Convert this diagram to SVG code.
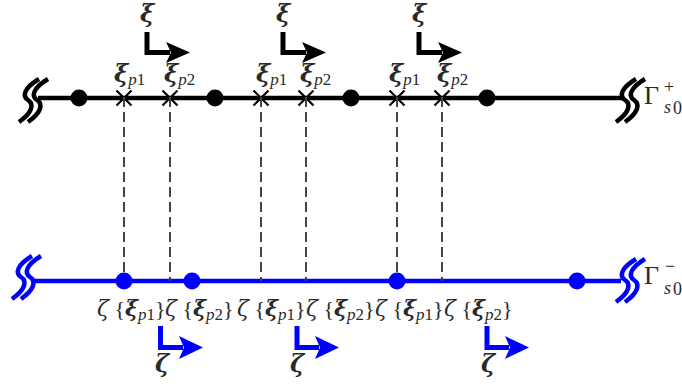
<svg xmlns="http://www.w3.org/2000/svg" width="682" height="388" viewBox="0 0 682 388">
  <style>
    text { font-family: "Liberation Serif", "DejaVu Serif", serif; fill: #2a2a2a; }
    .lbl { font-size: 22px; }
    .top { font-size: 24px; }
    .gr { font-family: "DejaVu Serif", serif; }
    .bx { font-weight: bold; font-style: italic; }
    .it { font-style: italic; }
    .sub { font-size: 17px; }
    .big { font-size: 24px; }
    .gam { font-size: 26px; }
    .gsub { font-size: 18px; }
    .line-k { stroke: #000; stroke-width: 4.5; fill: none; }
    .line-b { stroke: #0000ff; stroke-width: 4.5; fill: none; }
    .brk-k { stroke: #000; stroke-width: 4.5; fill: none; }
    .brk-b { stroke: #0000ff; stroke-width: 4.5; fill: none; }
    .dash { stroke: #444; stroke-width: 2; stroke-dasharray: 10 5; fill: none; }
    .cross { stroke: #000; stroke-width: 2.2; fill: none; }
    .arr-k { stroke: #000; stroke-width: 5; fill: none; }
    .arr-b { stroke: #0000ff; stroke-width: 5; fill: none; }
  </style>
  <defs>
    <!-- one wavy stroke of a break mark, centred on the line -->
    <path id="wave" d="M 10,-21 C -5,-12 -7,-4 -1,0 C 5,4 4,12 -10,22"/>
    <!-- an x mark for a quadrature point -->
    <path id="xmark" d="M -7.5,-7.5 L 7.5,7.5 M 7.5,-7.5 L -7.5,7.5"/>
    <marker id="headK" markerUnits="userSpaceOnUse" markerWidth="26" markerHeight="24" refX="4" refY="12" orient="auto">
      <path d="M 0,1.5 L 24,12 L 0,22.5 L 5,12 Z" fill="#000"/>
    </marker>
    <marker id="headB" markerUnits="userSpaceOnUse" markerWidth="26" markerHeight="26" refX="4" refY="12" orient="auto">
      <path d="M 0,0.5 L 24,12 L 0,23.5 L 5,12 Z" fill="#0000ff"/>
    </marker>
  </defs>

  <!-- upper boundary -->
  <g id="gamma-plus">
    <line class="line-k" x1="38" y1="98" x2="623" y2="98"/>
    <use href="#wave" class="brk-k" transform="translate(29,100)"/>
    <use href="#wave" class="brk-k" transform="translate(38,100)"/>
    <use href="#wave" class="brk-k" transform="translate(626,100)"/>
    <use href="#wave" class="brk-k" transform="translate(635,100)"/>
    <text class="gam" x="644" y="104">Γ</text>
    <text class="gsub" x="664" y="93">+</text>
    <text class="gsub it" x="664" y="113">s</text>
    <text class="gsub" x="673" y="114">0</text>
  </g>

  <!-- lower boundary -->
  <g id="gamma-minus">
    <line class="line-b" x1="33" y1="281" x2="621" y2="281"/>
    <use href="#wave" class="brk-b" transform="translate(22,277)"/>
    <use href="#wave" class="brk-b" transform="translate(31,277)"/>
    <use href="#wave" class="brk-b" transform="translate(626,280)"/>
    <use href="#wave" class="brk-b" transform="translate(635,280)"/>
    <text class="gam" x="644" y="284">Γ</text>
    <text class="gsub" x="665" y="272">−</text>
    <text class="gsub it" x="664" y="294">s</text>
    <text class="gsub" x="673" y="295">0</text>
  </g>

  <!-- nodes on the upper boundary -->
  <g id="upper-nodes">
    <circle cx="79" cy="98" r="8.5" fill="#000"/>
    <circle cx="215" cy="98" r="8.5" fill="#000"/>
    <circle cx="351" cy="98" r="8.5" fill="#000"/>
    <circle cx="487" cy="98" r="8.5" fill="#000"/>
  </g>

  <!-- quadrature points on the upper boundary -->
  <g id="quad-points">
    <use href="#xmark" class="cross" x="124" y="98"/>
    <use href="#xmark" class="cross" x="170" y="98"/>
    <use href="#xmark" class="cross" x="261" y="98"/>
    <use href="#xmark" class="cross" x="306" y="98"/>
    <use href="#xmark" class="cross" x="397" y="98"/>
    <use href="#xmark" class="cross" x="442" y="98"/>
    <text class="top" x="114" y="82"><tspan class="gr bx">ξ</tspan><tspan class="sub it" dy="3">p</tspan><tspan class="sub">1</tspan></text>
    <text class="top" x="164" y="82"><tspan class="gr bx">ξ</tspan><tspan class="sub it" dy="3">p</tspan><tspan class="sub">2</tspan></text>
    <text class="top" x="256" y="82"><tspan class="gr bx">ξ</tspan><tspan class="sub it" dy="3">p</tspan><tspan class="sub">1</tspan></text>
    <text class="top" x="300" y="82"><tspan class="gr bx">ξ</tspan><tspan class="sub it" dy="3">p</tspan><tspan class="sub">2</tspan></text>
    <text class="top" x="389" y="82"><tspan class="gr bx">ξ</tspan><tspan class="sub it" dy="3">p</tspan><tspan class="sub">1</tspan></text>
    <text class="top" x="437" y="82"><tspan class="gr bx">ξ</tspan><tspan class="sub it" dy="3">p</tspan><tspan class="sub">2</tspan></text>
  </g>

  <!-- projections between the two boundaries -->
  <g id="connectors">
    <line class="dash" x1="124" y1="97" x2="124" y2="281"/>
    <line class="dash" x1="170" y1="97" x2="170" y2="281"/>
    <line class="dash" x1="261" y1="97" x2="261" y2="281"/>
    <line class="dash" x1="306" y1="97" x2="306" y2="281"/>
    <line class="dash" x1="397" y1="97" x2="397" y2="281"/>
    <line class="dash" x1="442" y1="97" x2="442" y2="281"/>
  </g>

  <!-- nodes on the lower boundary -->
  <g id="lower-nodes">
    <circle cx="124" cy="281" r="8.5" fill="#0000ff"/>
    <circle cx="192" cy="281" r="8.5" fill="#0000ff"/>
    <circle cx="397" cy="281" r="8.5" fill="#0000ff"/>
    <circle cx="577" cy="281" r="8.5" fill="#0000ff"/>
  </g>

  <!-- projected point labels -->
  <g id="projected-labels" class="lbl">
    <text x="97" y="316"><tspan class="gr it">ζ</tspan> {<tspan class="gr bx">ξ</tspan><tspan class="sub it" dy="4">p</tspan><tspan class="sub">1</tspan><tspan dy="-4">}</tspan></text>
    <text x="165" y="316"><tspan class="gr it">ζ</tspan> {<tspan class="gr bx">ξ</tspan><tspan class="sub it" dy="4">p</tspan><tspan class="sub">2</tspan><tspan dy="-4">}</tspan></text>
    <text x="237" y="316"><tspan class="gr it">ζ</tspan> {<tspan class="gr bx">ξ</tspan><tspan class="sub it" dy="4">p</tspan><tspan class="sub">1</tspan><tspan dy="-4">}</tspan></text>
    <text x="306" y="316"><tspan class="gr it">ζ</tspan> {<tspan class="gr bx">ξ</tspan><tspan class="sub it" dy="4">p</tspan><tspan class="sub">2</tspan><tspan dy="-4">}</tspan></text>
    <text x="375" y="316"><tspan class="gr it">ζ</tspan> {<tspan class="gr bx">ξ</tspan><tspan class="sub it" dy="4">p</tspan><tspan class="sub">1</tspan><tspan dy="-4">}</tspan></text>
    <text x="444" y="316"><tspan class="gr it">ζ</tspan> {<tspan class="gr bx">ξ</tspan><tspan class="sub it" dy="4">p</tspan><tspan class="sub">2</tspan><tspan dy="-4">}</tspan></text>
  </g>

  <!-- local coordinate arrows, upper element -->
  <g id="xi-axes">
    <path class="arr-k" d="M147,32 V52.5 H170" marker-end="url(#headK)"/>
    <path class="arr-k" d="M283,32 V52.5 H306" marker-end="url(#headK)"/>
    <path class="arr-k" d="M419,32 V52.5 H442" marker-end="url(#headK)"/>
    <text class="big gr bx" x="140" y="22">ξ</text>
    <text class="big gr bx" x="276" y="22">ξ</text>
    <text class="big gr bx" x="412" y="22">ξ</text>
  </g>

  <!-- local coordinate arrows, lower element -->
  <g id="zeta-axes">
    <path class="arr-b" d="M160.5,326 V347.5 H183" marker-end="url(#headB)"/>
    <path class="arr-b" d="M297,326 V347.5 H319" marker-end="url(#headB)"/>
    <path class="arr-b" d="M487,326 V347.5 H509" marker-end="url(#headB)"/>
    <text class="big gr bx" x="155" y="372">ζ</text>
    <text class="big gr bx" x="290" y="372">ζ</text>
    <text class="big gr bx" x="481" y="372">ζ</text>
  </g>
</svg>
